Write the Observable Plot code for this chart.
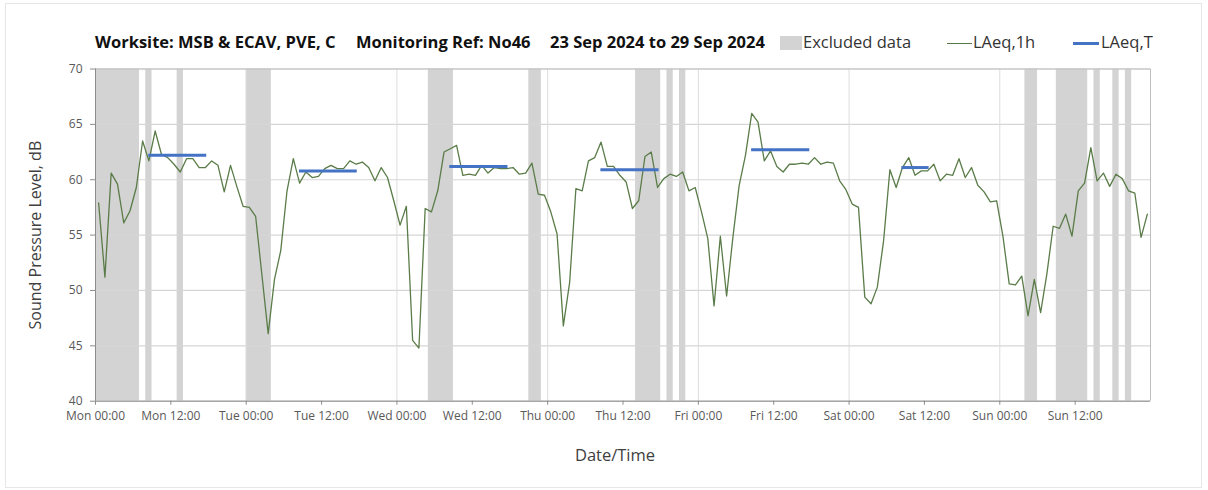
<!DOCTYPE html>
<html><head><meta charset="utf-8">
<script src="https://cdn.jsdelivr.net/npm/d3@7"></script>
<script src="https://cdn.jsdelivr.net/npm/@observablehq/plot@0.6"></script>
<style>
body{margin:0;background:#fff;font-family:"Open Sans",sans-serif;}
#wrap{position:relative;width:1208px;height:490px;overflow:hidden;background:#fff}
#frame{position:absolute;left:5px;top:3px;width:1197px;height:485px;border:1px solid #e6e6e6;box-sizing:border-box}
.t{position:absolute;top:31px;font-weight:bold;font-size:16.5px;color:#111;white-space:nowrap;line-height:22px}
.l{position:absolute;top:31px;font-size:16.5px;color:#333;white-space:nowrap;line-height:22px}
.sw{position:absolute}
#chart{position:absolute;left:0;top:60px}
</style></head>
<body>
<div id="wrap">
  <div id="frame"></div>
  <div class="t" style="left:95px">Worksite: MSB &amp; ECAV, PVE, C</div>
  <div class="t" style="left:356px">Monitoring Ref: No46</div>
  <div class="t" style="left:550px">23 Sep 2024 to 29 Sep 2024</div>
  <div class="sw" style="left:780px;top:36px;width:22px;height:14px;background:#d3d3d3"></div>
  <div class="l" style="left:803px">Excluded data</div>
  <div class="sw" style="left:947px;top:43px;width:25px;height:1px;background:#567a45"></div>
  <div class="l" style="left:973px">LAeq,1h</div>
  <div class="sw" style="left:1073px;top:42px;width:26px;height:3px;background:#4472c4"></div>
  <div class="l" style="left:1101px">LAeq,T</div>
  <div id="chart"></div>
</div>
<script>
// Hourly LAeq,1h values starting Mon 23 Sep 2024 00:00 (one per hour, plotted mid-hour)
const seriesStart = "2024-09-23T00:00Z";
const seriesEnd = "2024-09-30T00:00Z";
const laeq1h = [
 57.9,51.2,60.6,59.6,56.1,57.2,59.3,63.5,61.7,64.4,62.3,62.0,61.4,60.7,61.9,61.9,61.1,61.1,61.7,61.3,58.9,61.3,59.4,57.6,
 57.5,56.7,51.4,46.1,51.0,53.6,59.0,61.9,59.7,60.7,60.2,60.3,61.0,61.3,61.0,61.0,61.7,61.4,61.6,61.1,59.9,61.1,60.2,58.1,
 55.9,57.6,45.5,44.8,57.4,57.1,59.0,62.5,62.8,63.1,60.4,60.5,60.4,61.3,60.6,61.1,61.0,61.0,61.1,60.5,60.6,61.5,58.7,58.6,
 57.1,55.1,46.8,50.7,59.2,59.0,61.7,62.0,63.4,61.2,61.2,60.4,59.8,57.4,58.1,62.1,62.5,59.3,60.1,60.5,60.3,60.7,59.0,59.3,
 57.1,54.7,48.6,54.9,49.5,54.8,59.5,62.2,66.0,65.2,61.7,62.6,61.2,60.7,61.4,61.4,61.5,61.4,62.0,61.4,61.6,61.5,59.9,59.1,
 57.8,57.5,49.4,48.8,50.3,54.5,60.9,59.3,61.1,62.0,60.4,60.8,60.8,61.4,59.9,60.5,60.4,61.9,60.2,61.1,59.5,58.9,58.0,58.1,
 54.9,50.6,50.5,51.3,47.7,51.0,48.0,51.5,55.8,55.6,56.9,54.9,59.0,59.7,62.9,59.9,60.6,59.4,60.5,60.1,59.0,58.8,54.8,56.9
];
// LAeq,T daytime periods
const tStart = ["2024-09-23T08:24Z","2024-09-24T08:24Z","2024-09-25T08:20Z","2024-09-26T08:24Z","2024-09-27T08:24Z","2024-09-28T08:20Z"];
const tEnd   = ["2024-09-23T17:38Z","2024-09-24T17:36Z","2024-09-25T17:36Z","2024-09-26T17:40Z","2024-09-27T17:40Z","2024-09-28T12:40Z"];
const tValue = [62.2,60.8,61.2,60.9,62.7,61.1];
// Excluded data periods
const exStart = ["2024-09-23T00:00Z","2024-09-23T08:00Z","2024-09-23T13:00Z","2024-09-24T00:00Z","2024-09-25T05:00Z","2024-09-25T21:00Z",
  "2024-09-26T14:00Z","2024-09-26T19:00Z","2024-09-26T21:00Z","2024-09-29T04:00Z","2024-09-29T09:00Z","2024-09-29T15:00Z","2024-09-29T18:00Z","2024-09-29T20:00Z"];
const exEnd = ["2024-09-23T07:00Z","2024-09-23T09:00Z","2024-09-23T14:00Z","2024-09-24T04:00Z","2024-09-25T09:00Z","2024-09-25T23:00Z",
  "2024-09-26T18:00Z","2024-09-26T20:00Z","2024-09-26T22:00Z","2024-09-29T06:00Z","2024-09-29T14:00Z","2024-09-29T16:00Z","2024-09-29T19:00Z","2024-09-29T21:00Z"];
const yTicks = [40,45,50,55,60,65,70];

const t0 = new Date(seriesStart), t1 = new Date(seriesEnd);
const hourly = laeq1h.map((v,i)=>({time:new Date(+t0 + (i+0.5)*3600e3), value:v}));
const segs = tValue.map((v,i)=>({start:new Date(tStart[i]), end:new Date(tEnd[i]), value:v}));
const excluded = exStart.map((s,i)=>({start:new Date(s), end:new Date(exEnd[i])}));
const xTicks = d3.utcHour.every(12).range(t0, t1);
const midnights = d3.utcDay.range(d3.utcDay.offset(t0,1), t1);

const chart = Plot.plot({
  width:1208, height:430,
  marginLeft:95, marginRight:58, marginTop:8.5, marginBottom:89.3,
  style:{fontFamily:"'Open Sans',sans-serif", fontSize:"12px", color:"#555", background:"transparent"},
  x:{type:"utc", domain:[t0,t1], label:null},
  y:{domain:[40,70], label:null},
  marks:[
    Plot.rect(excluded,{x1:"start", x2:"end", fill:"#d3d3d3"}),
    Plot.gridY(yTicks,{stroke:"#d6d6d6", strokeOpacity:1, strokeWidth:1.2}),
    Plot.gridX(midnights,{stroke:"#dcdcdc", strokeOpacity:1}),
    Plot.ruleX([t1],{stroke:"#bfbfbf"}),
    Plot.ruleY([70],{stroke:"#bfbfbf"}),
    Plot.line(hourly,{x:"time", y:"value", stroke:"#5a7c48", strokeWidth:1.3}),
    Plot.link(segs,{x1:"start", x2:"end", y1:"value", y2:"value", stroke:"#4472c4", strokeWidth:3}),
    Plot.ruleX([t0],{stroke:"#8c8c8c"}),
    Plot.ruleY([40],{stroke:"#8c8c8c"}),
    Plot.axisY({ticks:yTicks, tickSize:5, tickPadding:8, stroke:"#8c8c8c", fill:"#595959", label:null}),
    Plot.axisX({ticks:xTicks, tickSize:4, tickPadding:6, stroke:"#8c8c8c", fill:"#595959", tickFormat:d3.utcFormat("%a %H:%M"), label:null}),
    Plot.text(["Sound Pressure Level, dB"],{frameAnchor:"left", textAnchor:"middle", dx:-60, rotate:-90, fontSize:16, fill:"#404040"}),
    Plot.text(["Date/Time"],{frameAnchor:"bottom", textAnchor:"middle", dx:-8, dy:60, fontSize:16.5, fill:"#404040"})
  ]
});
document.getElementById("chart").appendChild(chart);
</script>
</body></html>
